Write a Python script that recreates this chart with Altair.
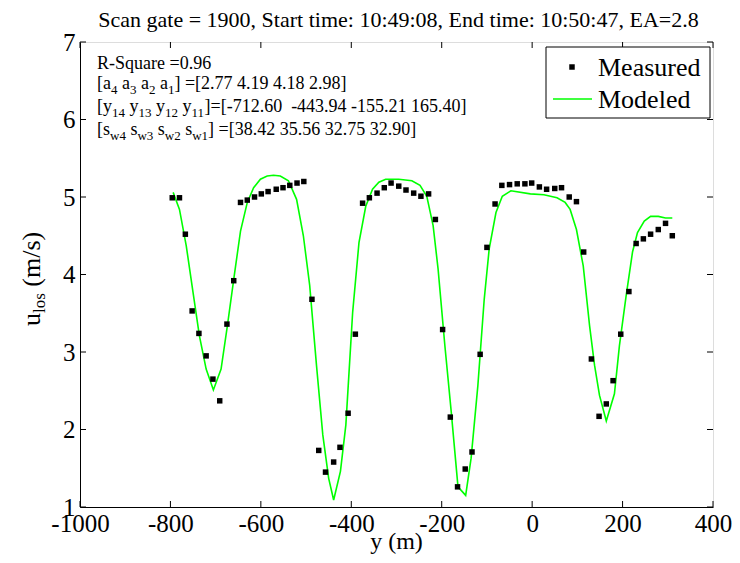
import altair as alt
import pandas as pd

# ---------------- data ----------------
meas_pos = [-796, -780, -767, -752, -737, -721, -706, -691, -675, -660,
            -645, -630, -614, -599, -584, -566, -551, -536, -520, -505,
            -487, -472, -457, -439, -425, -407, -391, -375, -360, -343,
            -327, -312, -295, -279, -262, -246, -229, -214, -198, -181,
            -165, -148, -133, -115, -100, -82, -67, -50, -33, -16,
            -1, 16, 32, 50, 65, 82, 98, 114, 131, 148,
            164, 179, 196, 214, 230, 246, 262, 279, 295, 310]
meas_u = [4.99, 4.99, 4.52, 3.53, 3.24, 2.95, 2.65, 2.37, 3.36, 3.92,
          4.93, 4.96, 5.00, 5.04, 5.07, 5.10, 5.12, 5.15, 5.18, 5.20,
          3.68, 1.73, 1.45, 1.58, 1.77, 2.21, 3.23, 4.92, 4.99, 5.05,
          5.12, 5.18, 5.14, 5.09, 5.05, 5.01, 5.04, 4.71, 3.29, 2.16,
          1.26, 1.49, 1.71, 2.97, 4.35, 4.91, 5.15, 5.16, 5.17, 5.17,
          5.18, 5.13, 5.10, 5.11, 5.12, 5.00, 4.94, 4.29, 2.91, 2.17,
          2.33, 2.63, 3.23, 3.78, 4.40, 4.46, 4.52, 4.58, 4.66, 4.50]

model_pos = [-794, -780, -765, -750, -736, -721, -705, -688, -674, -659,
             -645, -630, -616, -601, -586, -572, -557, -539, -521, -506,
             -492, -477, -463, -450, -439, -424, -412, -397, -383, -368,
             -353, -339, -324, -295, -266, -248, -233, -219, -208, -193,
             -179, -164, -147, -135, -120, -106, -95, -80, -66, -47,
             -4, 26, 55, 73, 84, 98, 113, 127, 138, 149,
             164, 182, 193, 208, 222, 233, 248, 262, 279, 295, 310]
model_u = [5.06, 4.84, 4.37, 3.77, 3.21, 2.78, 2.51, 2.78, 3.34, 3.98,
           4.56, 4.93, 5.12, 5.23, 5.27, 5.28, 5.27, 5.21, 4.97, 4.50,
           3.86, 2.83, 1.93, 1.37, 1.09, 1.46, 2.06, 3.51, 4.41, 4.88,
           5.10, 5.19, 5.23, 5.23, 5.21, 5.15, 5.01, 4.63, 4.07, 3.08,
           2.23, 1.26, 1.15, 1.63, 2.57, 3.68, 4.33, 4.80, 5.01, 5.08,
           5.04, 5.03, 4.99, 4.93, 4.84, 4.58, 4.11, 3.34, 2.83, 2.44,
           2.11, 2.46, 3.08, 3.73, 4.29, 4.54, 4.69, 4.75, 4.75, 4.73, 4.73]

x_ticks = [-1000, -800, -600, -400, -200, 0, 200, 400]
y_ticks = [1, 2, 3, 4, 5, 6, 7]

title_text = "Scan gate = 1900, Start time: 10:49:08, End time: 10:50:47, EA=2.8"
x_title = "y (m)"
y_title_parts = [("u", False), ("los", True), (" (m/s)", False)]
legend_labels = ["Measured", "Modeled"]

# annotation lines: (text, is_subscript)
ann_lines = [
    [("R-Square =0.96", False)],
    [("[a", False), ("4", True), (" a", False), ("3", True), (" a", False), ("2", True),
     (" a", False), ("1", True), ("] =[2.77 4.19 4.18 2.98]", False)],
    [("[y", False), ("14", True), (" y", False), ("13", True), (" y", False), ("12", True),
     (" y", False), ("11", True), ("]=[-712.60\u00a0 -443.94 -155.21 165.40]", False)],
    [("[s", False), ("w4", True), (" s", False), ("w3", True), (" s", False), ("w2", True),
     (" s", False), ("w1", True), ("] =[38.42 35.56 32.75 32.90]", False)],
]

# ---------------- layout / style ----------------
W, H = 633, 465
FONT = "Liberation Serif"
GREEN = "#00ff00"

# Times-compatible advance widths (per 1000 em) for laying out rich text pieces
ADV = {" ": 250, "\u00a0": 250, "-": 333, ".": 250, "=": 564, "[": 333, "]": 333,
       "(": 333, ")": 333, "/": 278, "R": 667, "S": 556, "q": 500, "u": 500,
       "a": 444, "r": 333, "e": 444, "y": 500, "s": 389, "w": 722, "l": 278,
       "o": 500, "m": 778}


def tw(s, size):
    return sum(ADV.get(c, 500) for c in s) * size / 1000.0


one = pd.DataFrame({"k": [0]})


def txt(text, px, py, size, angle=0, align="left", baseline="alphabetic", color="black"):
    kw = dict(text=text, font=FONT, fontSize=size, align=align, baseline=baseline,
              color=color)
    if angle:
        kw["angle"] = angle
    return alt.Chart(one).mark_text(**kw).encode(x=alt.value(px), y=alt.value(py))


xs = alt.Scale(domain=[-1000, 400], nice=False, zero=False)
ys = alt.Scale(domain=[1, 7], nice=False, zero=False)

x_enc = alt.X("pos:Q", scale=xs, title=None,
              axis=alt.Axis(values=x_ticks, ticks=False, grid=False,
                            labelExpr="'' + datum.value", labelFont=FONT,
                            labelFontSize=25, labelColor="black", labelPadding=4,
                            labelFlush=False, labelOverlap=False,
                            domainColor="black", domainWidth=1))
y_enc = alt.Y("u:Q", scale=ys, title=None,
              axis=alt.Axis(values=y_ticks, ticks=False, grid=False,
                            labelFont=FONT, labelFontSize=25, labelColor="black",
                            labelPadding=5, labelFlush=False, labelOverlap=False,
                            domainColor="black", domainWidth=1))

meas_df = pd.DataFrame({"pos": meas_pos, "u": meas_u})
model_df = pd.DataFrame({"pos": model_pos, "u": model_u})
xt_df = pd.DataFrame({"pos": x_ticks})
yt_df = pd.DataFrame({"u": y_ticks})

model_line = alt.Chart(model_df).mark_line(color=GREEN, strokeWidth=1.6).encode(
    x=x_enc, y=y_enc, order="pos:Q")
meas_pts = alt.Chart(meas_df).mark_square(size=30, color="black", opacity=1).encode(
    x=x_enc, y=y_enc)

TL = 6
ticks = [
    alt.Chart(xt_df).mark_rule(color="black").encode(x=x_enc, y=alt.value(H), y2=alt.value(H - TL)),
    alt.Chart(xt_df).mark_rule(color="black").encode(x=x_enc, y=alt.value(0), y2=alt.value(TL)),
    alt.Chart(yt_df).mark_rule(color="black").encode(y=y_enc, x=alt.value(0), x2=alt.value(TL)),
    alt.Chart(yt_df).mark_rule(color="black").encode(y=y_enc, x=alt.value(W), x2=alt.value(W - TL)),
]

layers = [model_line, meas_pts] + ticks

# title
layers.append(txt(title_text, W / 2 + 2, -15, 22, align="center"))

# x axis title
layers.append(txt(x_title, W / 2, 507, 24, align="center"))

# y axis title (rotated, with subscript)
ypos = 284
for part, sub in y_title_parts:
    size = 17 if sub else 26
    lead = len(part) - len(part.lstrip(" "))
    ypos -= tw(" " * lead, size)
    body = part.lstrip(" ")
    layers.append(txt(body, -35 if sub else -40, ypos, size, angle=270))
    ypos -= tw(body, size)

# annotation block
MAIN, SUB = 18, 13
base_y = [27, 47, 70, 93]
for line, by in zip(ann_lines, base_y):
    px = 17
    for part, sub in line:
        size = SUB if sub else MAIN
        lead = len(part) - len(part.lstrip(" "))
        px += tw(" " * lead, size)
        body = part.lstrip(" ")
        layers.append(txt(body, px, by + (5 if sub else 0), size))
        px += tw(body, size)

# legend box
layers.append(alt.Chart(one).mark_rect(fill="white", stroke="black", strokeWidth=1).encode(
    x=alt.value(466), x2=alt.value(630), y=alt.value(5), y2=alt.value(76)))
layers.append(alt.Chart(one).mark_square(size=30, color="black", opacity=1).encode(
    x=alt.value(492), y=alt.value(25)))
layers.append(alt.Chart(one).mark_rule(color=GREEN, strokeWidth=1.6).encode(
    x=alt.value(473), x2=alt.value(512), y=alt.value(57)))
layers.append(txt(legend_labels[0], 518, 34, 26))
layers.append(txt(legend_labels[1], 518, 66, 26))

chart = alt.layer(*layers).properties(
    width=W, height=H,
    autosize=alt.AutoSizeParams(type="none"),
    padding={"left": 72, "top": 34, "right": 19, "bottom": 48},
).configure_view(stroke="black", strokeWidth=1).configure(background="white")

chart.save("out.html", embed_options={"renderer": "svg", "actions": False})
